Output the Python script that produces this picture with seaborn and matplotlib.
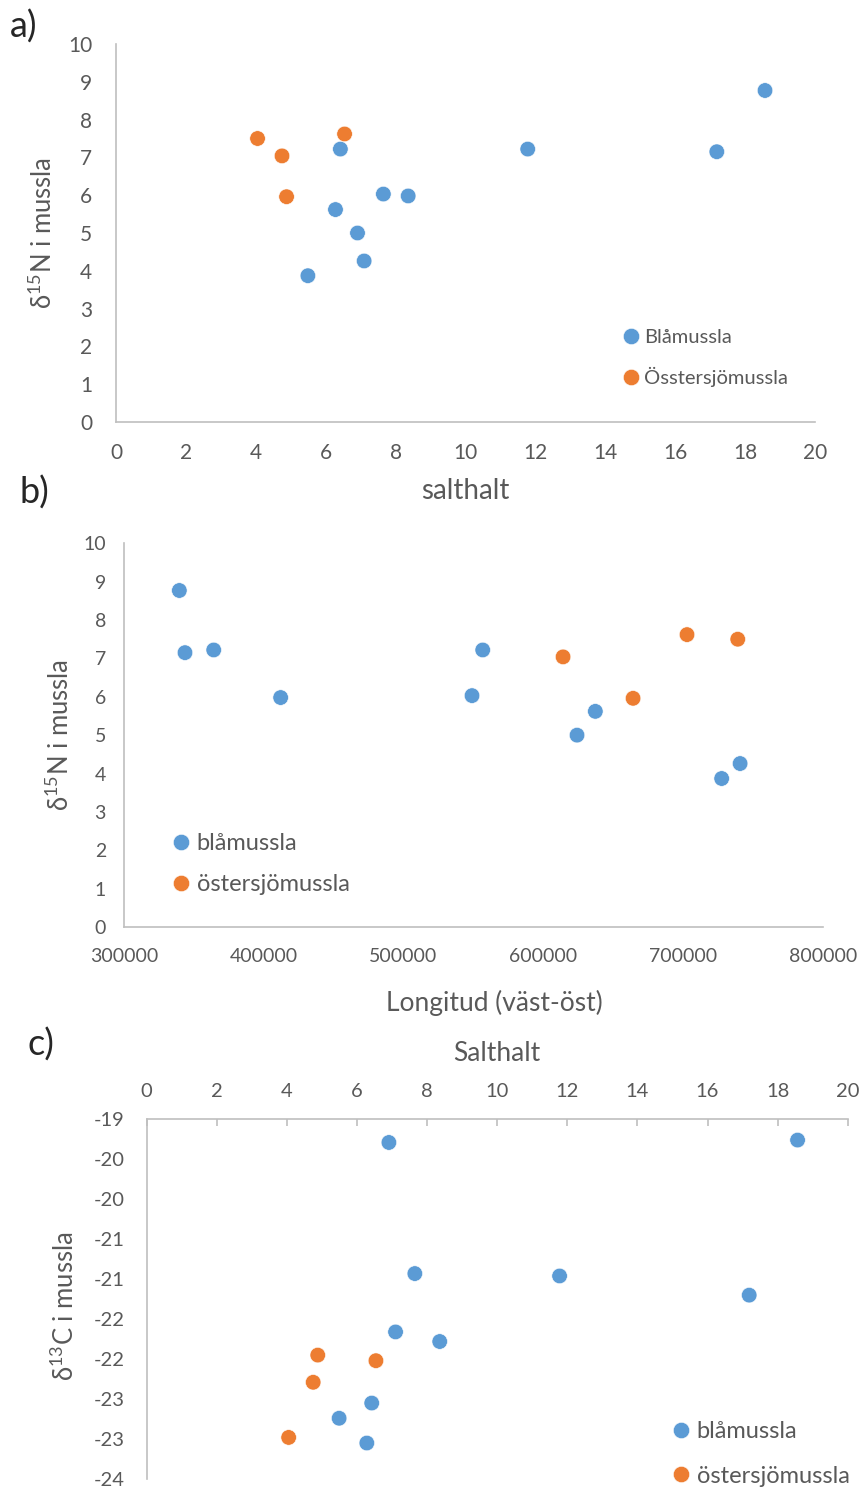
import numpy as np
import pandas as pd
import matplotlib
matplotlib.use('Agg')
import matplotlib.pyplot as plt
import seaborn as sns

# blåmussla (same sample order in all arrays)
bla_salt = [5.49, 6.28, 6.42, 6.91, 7.10, 7.65, 8.36, 11.78, 17.19, 18.57]
bla_d15n = [3.87, 5.62, 7.22, 5.00, 4.26, 6.03, 5.98, 7.22, 7.15, 8.77]
bla_lon = [727700, 637300, 556700, 624200, 740900, 549050, 412100, 364200, 343650, 339600]
bla_d13c = [-22.74, -23.05, -22.55, -19.29, -21.66, -20.93, -21.78, -20.96, -21.20, -19.26]

# östersjömussla
ost_salt = [4.05, 4.75, 4.88, 6.54]
ost_d15n = [7.50, 7.04, 5.96, 7.62]
ost_lon = [739200, 614200, 664300, 702900]
ost_d13c = [-22.98, -22.29, -21.95, -22.02]

labels_a = ['Blåmussla', 'Össtersjömussla']
labels_bc = ['blåmussla', 'östersjömussla']

c_ticks = [-19, -19.5, -20, -20.5, -21, -21.5, -22, -22.5, -23, -23.5]
c_tick_labels = ['-19', '-20', '-20', '-21', '-21', '-22', '-22', '-23', '-23', '-24']

BLUE = '#5B9BD5'
ORANGE = '#ED7D31'
GREY = '#595959'
AXIS = '#BFBFBF'

sns.set_style('white')
plt.rcParams['font.family'] = ['Lato', 'DejaVu Sans']
plt.rcParams['mathtext.fontset'] = 'custom'
plt.rcParams['mathtext.rm'] = 'Lato'
plt.rcParams['mathtext.default'] = 'regular'


def make_df(labels):
    n1, n2 = len(bla_salt), len(ost_salt)
    return pd.DataFrame({
        'art': [labels[0]] * n1 + [labels[1]] * n2,
        'salt': bla_salt + ost_salt,
        'd15n': bla_d15n + ost_d15n,
        'lon': bla_lon + ost_lon,
        'd13c': bla_d13c + ost_d13c,
    })


def scatter(ax, df, x, y, labels):
    sns.scatterplot(data=df, x=x, y=y, hue='art', hue_order=labels,
                    palette=[BLUE, ORANGE], s=125, edgecolor='white',
                    linewidth=0.4, ax=ax)


def style(ax, tick_size, ypad, xpad):
    for sp in ax.spines.values():
        sp.set_color(AXIS)
        sp.set_linewidth(1.2)
    ax.tick_params(colors=AXIS, labelcolor=GREY, labelsize=tick_size,
                   length=5, width=1.2, direction='out')
    ax.tick_params(axis='y', pad=ypad)
    ax.tick_params(axis='x', pad=xpad)


def legend(ax, x, y, size, spacing):
    sns.move_legend(ax, 'upper left', bbox_to_anchor=(x / 862, 1 - y / 1490),
                    bbox_transform=ax.figure.transFigure, title=None,
                    frameon=False, fontsize=size, labelcolor=GREY,
                    borderpad=0, borderaxespad=0, handlelength=0.7,
                    handletextpad=0.3, labelspacing=spacing, markerscale=1.05)


fig = plt.figure(figsize=(8.62, 14.9), dpi=100)
ax_a = fig.add_axes([116 / 862, 1 - 422 / 1490, 699 / 862, 378 / 1490])
ax_b = fig.add_axes([124 / 862, 1 - 927 / 1490, 698.7 / 862, 383.7 / 1490])
ax_c = fig.add_axes([146.7 / 862, 1 - 1479 / 1490, 701 / 862, 359.7 / 1490])

# a) salthalt vs d15N
df_a = make_df(labels_a)
scatter(ax_a, df_a, 'salt', 'd15n', labels_a)
ax_a.set_xlim(0, 20)
ax_a.set_ylim(0, 10)
ax_a.set_xticks(range(0, 21, 2))
ax_a.set_yticks(range(0, 11))
sns.despine(ax=ax_a)
style(ax_a, 15, 12, 10)
ax_a.set_xlabel('salthalt', fontsize=20, color=GREY, labelpad=11)
ax_a.set_ylabel(r'δ$^{15}$N i mussla', fontsize=18.5, color=GREY)
ax_a.yaxis.set_label_coords(-0.084, 0.5)
legend(ax_a, 624, 329, 14.5, 1.05)

# b) longitud vs d15N
df_b = make_df(labels_bc)
scatter(ax_b, df_b, 'lon', 'd15n', labels_bc)
ax_b.set_xlim(300000, 800000)
ax_b.set_ylim(0, 10)
ax_b.set_xticks(range(300000, 800001, 100000))
ax_b.set_yticks(range(0, 11))
ax_b.xaxis.set_major_formatter(matplotlib.ticker.FormatStrFormatter('%d'))
sns.despine(ax=ax_b)
style(ax_b, 14, 8, 10)
ax_b.set_xlabel('Longitud (väst-öst)', fontsize=19, color=GREY)
ax_b.xaxis.set_label_coords(0.53, -0.163)
ax_b.set_ylabel(r'δ$^{15}$N i mussla', fontsize=18.5, color=GREY)
ax_b.yaxis.set_label_coords(-0.071, 0.5)
legend(ax_b, 173, 833, 17, 0.85)

# c) salthalt vs d13C, x axis on top
df_c = make_df(labels_bc)
scatter(ax_c, df_c, 'salt', 'd13c', labels_bc)
ax_c.set_xlim(0, 20)
ax_c.set_ylim(-23.5, -19)
ax_c.set_xticks(range(0, 21, 2))
ax_c.set_yticks(c_ticks)
ax_c.set_yticklabels(c_tick_labels)
sns.despine(ax=ax_c, top=False, bottom=True)
style(ax_c, 14.5, 11, 14)
ax_c.xaxis.tick_top()
ax_c.xaxis.set_label_position('top')
ax_c.tick_params(axis='x', direction='in')
ax_c.set_xlabel('Salthalt', fontsize=19, color=GREY, labelpad=16)
ax_c.set_ylabel(r'δ$^{13}$C i mussla', fontsize=18.5, color=GREY)
ax_c.yaxis.set_label_coords(-0.097, 0.48)
legend(ax_c, 673, 1421, 17, 1.0)

fig.text(10 / 862, 1 - 27 / 1490, 'a)', fontsize=26, va='center')
fig.text(20 / 862, 1 - 493 / 1490, 'b)', fontsize=26, va='center')
fig.text(28 / 862, 1 - 1045 / 1490, 'c)', fontsize=26, va='center')

fig.savefig('out.png', dpi=100)
